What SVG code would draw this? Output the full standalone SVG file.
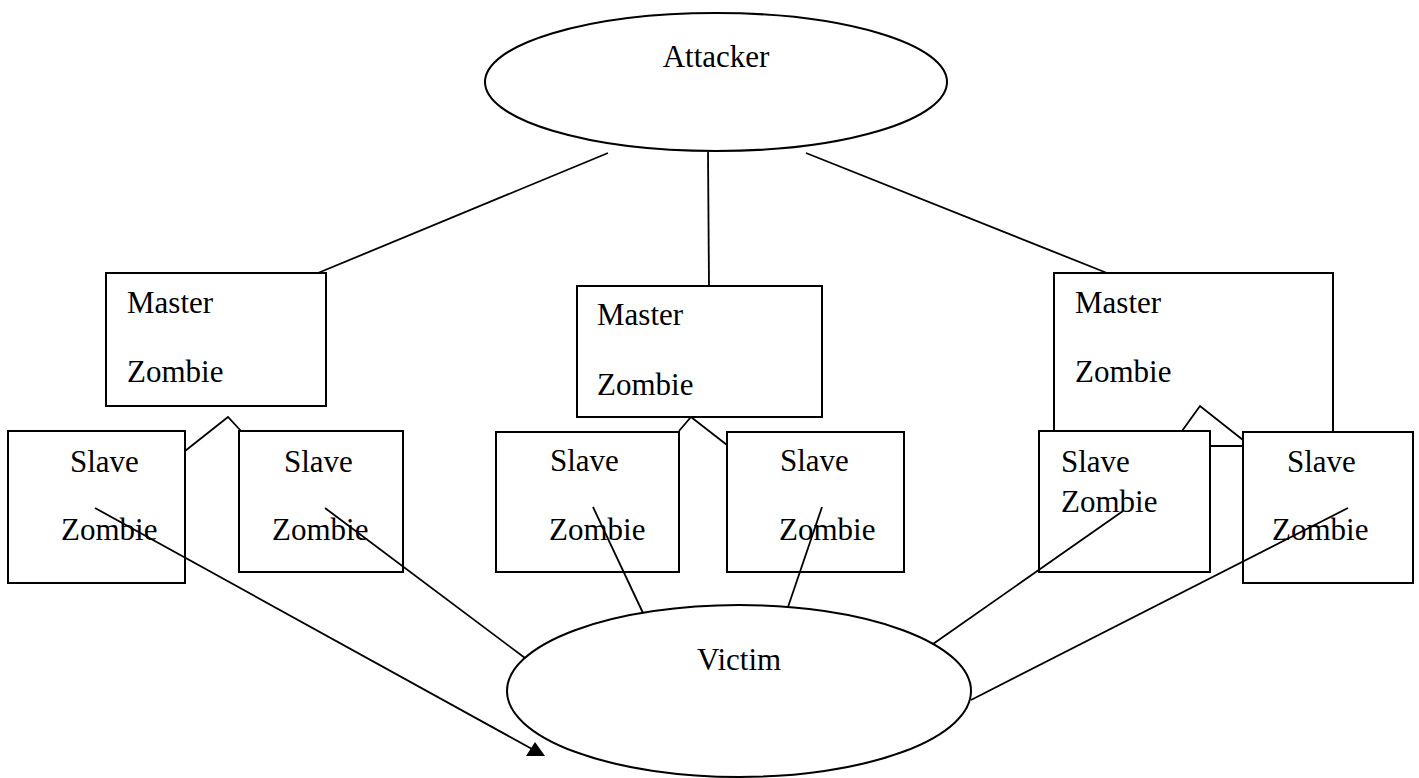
<svg xmlns="http://www.w3.org/2000/svg" width="1419" height="778" viewBox="0 0 1419 778">
<style>
.shape{fill:#fff;stroke:#000;stroke-width:2}
.line{fill:none;stroke:#000;stroke-width:1.8}
text{font-family:"Liberation Serif","Times New Roman",serif;font-size:31px;fill:#000}
.c{text-anchor:middle}
</style>
<rect width="1419" height="778" fill="#fff"/>
<g id="attacker">
<ellipse class="shape" cx="716" cy="82" rx="231" ry="69"/>
<text class="c" x="716" y="67">Attacker</text>
</g>
<g id="victim">
<ellipse class="shape" cx="739" cy="691" rx="232" ry="86"/>
<text class="c" x="739" y="670">Victim</text>
</g>
<g id="master1">
<rect class="shape" x="106" y="273" width="220" height="133"/>
<text x="127" y="313">Master</text>
<text x="127" y="382">Zombie</text>
</g>
<g id="master2">
<rect class="shape" x="577" y="286" width="245" height="131"/>
<text x="597" y="325">Master</text>
<text x="597" y="395">Zombie</text>
</g>
<g id="master3">
<rect class="shape" x="1054" y="273" width="279" height="173"/>
<text x="1075" y="313">Master</text>
<text x="1075" y="382">Zombie</text>
</g>
<g id="slave1">
<rect class="shape" x="8" y="431" width="177" height="152"/>
<text x="70" y="472">Slave</text>
<text x="61" y="540">Zombie</text>
</g>
<g id="slave2">
<rect class="shape" x="239" y="431" width="164" height="141"/>
<text x="284" y="472">Slave</text>
<text x="272" y="540">Zombie</text>
</g>
<g id="slave3">
<rect class="shape" x="496" y="432" width="183" height="140"/>
<text x="550" y="471">Slave</text>
<text x="549" y="540">Zombie</text>
</g>
<g id="slave4">
<rect class="shape" x="727" y="432" width="177" height="140"/>
<text x="780" y="471">Slave</text>
<text x="779" y="540">Zombie</text>
</g>
<g id="slave5">
<rect class="shape" x="1039" y="431" width="171" height="141"/>
<text x="1061" y="472">Slave</text>
<text x="1061" y="512">Zombie</text>
</g>
<g id="slave6">
<rect class="shape" x="1243" y="432" width="170" height="151"/>
<text x="1287" y="472">Slave</text>
<text x="1272" y="540">Zombie</text>
</g>
<g id="connectors">
<line class="line" x1="608" y1="153" x2="318" y2="273"/>
<line class="line" x1="708" y1="152" x2="709" y2="286"/>
<line class="line" x1="806" y1="153" x2="1107" y2="273"/>
<polyline class="line" points="185,451 228,417 241,431"/>
<polyline class="line" points="679,431 691,417 727,445"/>
<polyline class="line" points="1182,431 1200,406 1243,440"/>
<line class="line" x1="95" y1="508" x2="532" y2="749"/>
<polygon points="535,742 545,756 526,756" fill="#000"/>
<line class="line" x1="325" y1="508" x2="525" y2="658"/>
<line class="line" x1="593" y1="507" x2="643" y2="613"/>
<line class="line" x1="822" y1="507" x2="788" y2="607"/>
<line class="line" x1="1123" y1="511" x2="933" y2="644"/>
<line class="line" x1="1348" y1="508" x2="971" y2="700"/>
</g>
</svg>
